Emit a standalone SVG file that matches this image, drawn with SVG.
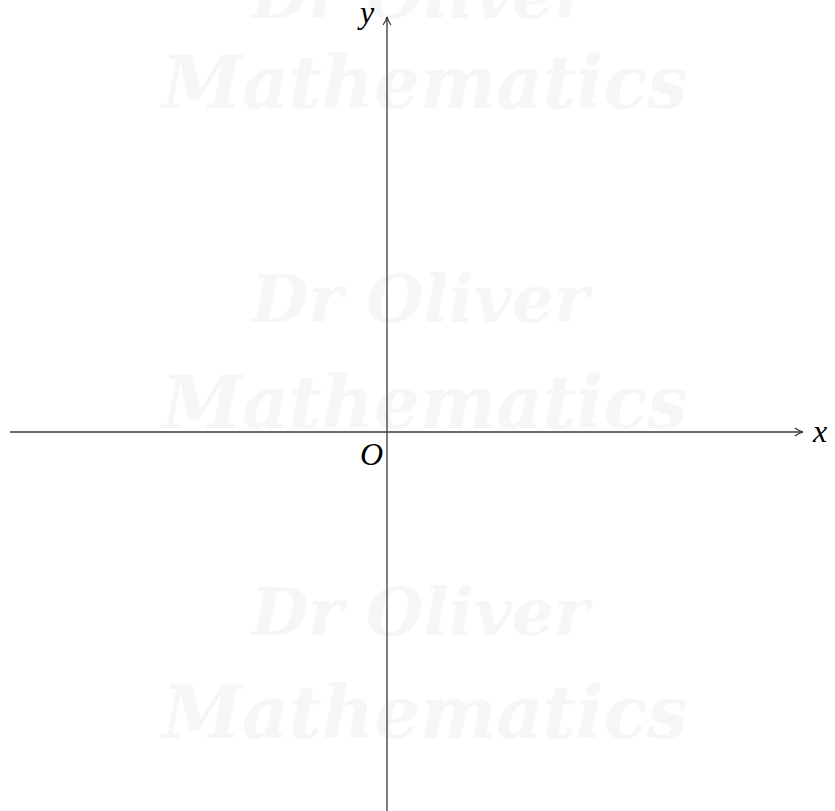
<svg xmlns="http://www.w3.org/2000/svg" width="835" height="811" viewBox="0 0 835 811">
<style>
.wm{font-family:"DejaVu Serif",serif;font-style:italic;font-weight:bold;fill:#f6f6f6;text-anchor:middle}
.ax{stroke:#3a3a3a;stroke-width:1.3;fill:none}
.lbl{font-family:"Liberation Serif","DejaVu Serif",serif;font-style:italic;font-size:32px;fill:#000}
</style>
<defs>
<marker id="arr" viewBox="0 0 10 10" refX="9" refY="5" markerWidth="10" markerHeight="10" markerUnits="userSpaceOnUse" orient="auto">
<path d="M1,1 Q5,4 9,5 Q5,6 1,9" fill="none" stroke="#333" stroke-width="1.2"/>
</marker>
</defs>
<g id="watermark">
<text class="wm" x="420" y="18" font-size="66">Dr Oliver</text>
<text class="wm" x="425" y="108" font-size="72">Mathematics</text>
<text class="wm" x="420" y="322" font-size="66">Dr Oliver</text>
<text class="wm" x="425" y="428" font-size="72">Mathematics</text>
<text class="wm" x="420" y="635" font-size="66">Dr Oliver</text>
<text class="wm" x="425" y="738" font-size="72">Mathematics</text>
</g>
<g id="connectors">
<line id="x-axis" class="ax" x1="10" y1="432" x2="803" y2="432" marker-end="url(#arr)"/>
<line id="y-axis" class="ax" x1="387" y1="811" x2="387" y2="17" marker-end="url(#arr)"/>
</g>
<g id="label-x"><text class="lbl" x="813" y="442">x</text></g>
<g id="label-y"><text class="lbl" x="360" y="23">y</text></g>
<g id="label-O"><text class="lbl" x="360" y="465">O</text></g>
</svg>
